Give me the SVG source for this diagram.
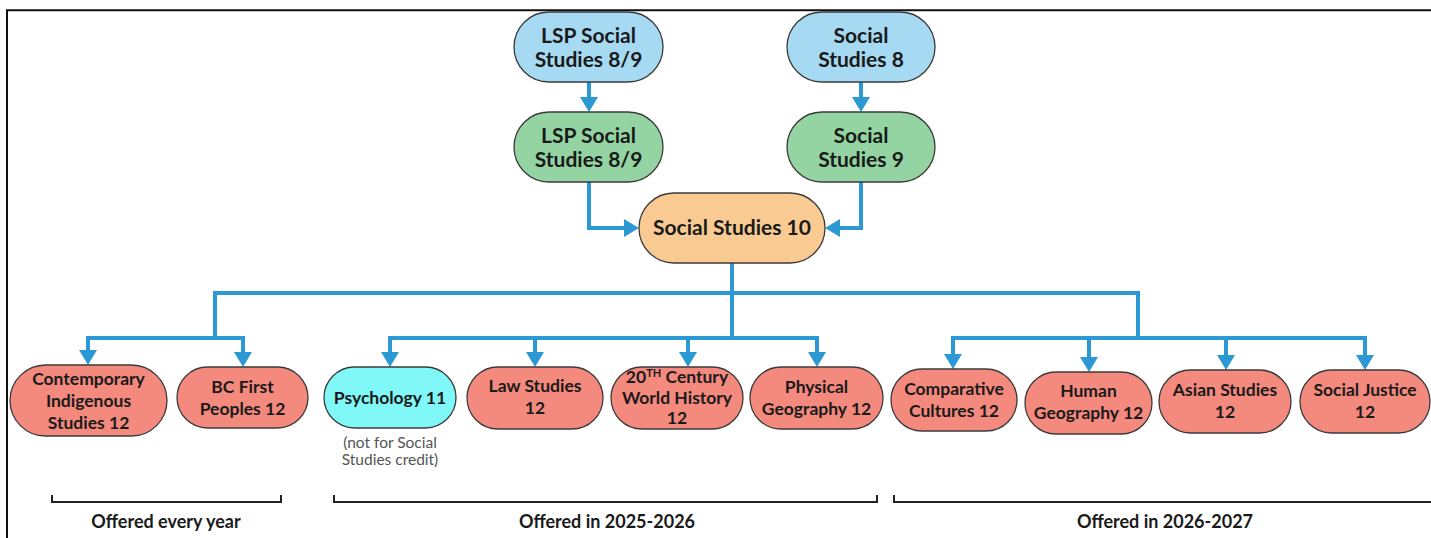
<svg xmlns="http://www.w3.org/2000/svg" width="1431" height="538" viewBox="0 0 1431 538">
<style>
.nd{stroke:#3b3b3b;stroke-width:1.3}
.blue{fill:#A6D9F2}
.green{fill:#93D4A2}
.orange{fill:#F9CB93}
.red{fill:#F4897E}
.cyan{fill:#80F8F8}
.t{font-family:Lato,"Carlito","Liberation Sans",sans-serif;font-weight:bold;fill:#1a1a1a;text-anchor:middle}
.big{font-size:21px}
.sm{font-size:17.5px}
.lbl{font-size:18px}
.note{font-family:Lato,"Liberation Sans",sans-serif;font-size:15.5px;fill:#555;text-anchor:middle}
.conn{fill:none;stroke:#2C99D5;stroke-width:4}
.arr{fill:none;stroke:#2C99D5;stroke-width:4;marker-end:url(#ah)}
.br{fill:none;stroke:#222;stroke-width:2}
</style>
<defs>
<marker id="ah" markerUnits="userSpaceOnUse" markerWidth="16" markerHeight="18" refX="4" refY="9" orient="auto" viewBox="0 0 16 18">
<path d="M0,0 L15,9 L0,18 z" fill="#2C99D5"/>
</marker>
</defs>
<rect width="1431" height="538" fill="#fff"/>
<path d="M7,538 V10.3 H1431" fill="none" stroke="#111" stroke-width="2"/>

<g id="connectors">
<path class="arr" d="M589,82 V101"/>
<path class="arr" d="M861,82 V101"/>
<path class="arr" d="M589,182 V228 H628"/>
<path class="arr" d="M861,182 V228 H836"/>
<path class="conn" d="M732,263 V338"/>
<path class="conn" d="M215,338 V293 H1138 V338"/>
<path class="conn" d="M88,338 H243"/>
<path class="conn" d="M390,338 H817"/>
<path class="conn" d="M953,338 H1365"/>
<path class="arr" d="M88,336 V354"/>
<path class="arr" d="M243,336 V356"/>
<path class="arr" d="M390,336 V356"/>
<path class="arr" d="M535,336 V356"/>
<path class="arr" d="M688,336 V356"/>
<path class="arr" d="M817,336 V356"/>
<path class="arr" d="M953,336 V358"/>
<path class="arr" d="M1089,336 V361"/>
<path class="arr" d="M1226,336 V359"/>
<path class="arr" d="M1365,336 V359"/>
</g>

<g id="n-lsp89-a">
<rect class="nd blue" x="514" y="12" width="149" height="70" rx="35"/>
<text class="t big" x="588.5" y="43">LSP Social</text>
<text class="t big" x="588.5" y="67">Studies 8/9</text>
</g>
<g id="n-ss8">
<rect class="nd blue" x="787" y="12" width="148" height="70" rx="35"/>
<text class="t big" x="861" y="43">Social</text>
<text class="t big" x="861" y="67">Studies 8</text>
</g>
<g id="n-lsp89-b">
<rect class="nd green" x="514" y="112" width="149" height="70" rx="35"/>
<text class="t big" x="588.5" y="143">LSP Social</text>
<text class="t big" x="588.5" y="167">Studies 8/9</text>
</g>
<g id="n-ss9">
<rect class="nd green" x="787" y="112" width="148" height="70" rx="35"/>
<text class="t big" x="861" y="143">Social</text>
<text class="t big" x="861" y="167">Studies 9</text>
</g>
<g id="n-ss10">
<rect class="nd orange" x="639" y="193" width="186" height="70" rx="35"/>
<text class="t big" x="732" y="235">Social Studies 10</text>
</g>

<g id="n-cis12">
<rect class="nd red" x="10" y="365" width="157" height="71" rx="35.5"/>
<text class="t sm" x="88.5" y="385">Contemporary</text>
<text class="t sm" x="88.5" y="407">Indigenous</text>
<text class="t sm" x="88.5" y="429">Studies 12</text>
</g>
<g id="n-bcfp12">
<rect class="nd red" x="177" y="367" width="131" height="61" rx="30.5"/>
<text class="t sm" x="242.5" y="393">BC First</text>
<text class="t sm" x="242.5" y="415">Peoples 12</text>
</g>
<g id="n-psych11">
<rect class="nd cyan" x="324" y="367" width="132" height="61" rx="30.5"/>
<text class="t sm" x="390" y="404">Psychology 11</text>
<text class="note" x="390" y="448">(not for Social</text>
<text class="note" x="390" y="465">Studies credit)</text>
</g>
<g id="n-law12">
<rect class="nd red" x="467" y="367" width="136" height="62" rx="31"/>
<text class="t sm" x="535" y="392">Law Studies</text>
<text class="t sm" x="535" y="414">12</text>
</g>
<g id="n-wh12">
<rect class="nd red" x="611" y="367" width="132" height="62" rx="31"/>
<text class="t sm" x="677" y="383">20<tspan font-size="11" dy="-6">TH</tspan><tspan dy="6"> Century</tspan></text>
<text class="t sm" x="677" y="404">World History</text>
<text class="t sm" x="677" y="424">12</text>
</g>
<g id="n-pg12">
<rect class="nd red" x="750" y="367" width="133" height="62" rx="31"/>
<text class="t sm" x="816.5" y="393">Physical</text>
<text class="t sm" x="816.5" y="415">Geography 12</text>
</g>
<g id="n-cc12">
<rect class="nd red" x="891" y="369" width="126" height="62" rx="31"/>
<text class="t sm" x="954" y="395">Comparative</text>
<text class="t sm" x="954" y="417">Cultures 12</text>
</g>
<g id="n-hg12">
<rect class="nd red" x="1025" y="372" width="127" height="62" rx="31"/>
<text class="t sm" x="1088.5" y="397">Human</text>
<text class="t sm" x="1088.5" y="419">Geography 12</text>
</g>
<g id="n-as12">
<rect class="nd red" x="1159" y="370" width="132" height="63" rx="31.5"/>
<text class="t sm" x="1225" y="396">Asian Studies</text>
<text class="t sm" x="1225" y="418">12</text>
</g>
<g id="n-sj12">
<rect class="nd red" x="1300" y="370" width="130" height="63" rx="31.5"/>
<text class="t sm" x="1365" y="396">Social Justice</text>
<text class="t sm" x="1365" y="418">12</text>
</g>

<g id="brackets">
<path class="br" d="M52,495 V502 H281 V495"/>
<path class="br" d="M334,495 V502 H877 V495"/>
<path class="br" d="M894,495 V502 H1431"/>
<text class="t lbl" x="166" y="528">Offered every year</text>
<text class="t lbl" x="607" y="528">Offered in 2025-2026</text>
<text class="t lbl" x="1165" y="528">Offered in 2026-2027</text>
</g>
</svg>
